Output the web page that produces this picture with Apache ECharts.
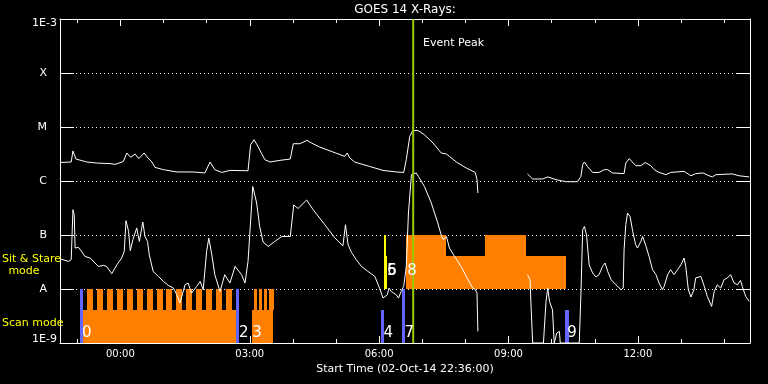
<!DOCTYPE html>
<html><head><meta charset="utf-8">
<script src="https://cdn.jsdelivr.net/npm/echarts@6/dist/echarts.min.js"></script>
<style>html,body{margin:0;padding:0;background:#000}#c{width:768px;height:384px}</style>
</head><body><div id="c"></div>
<script>
// Time axis: hours relative to 03-Oct-14 00:00 (start 02-Oct-14 22:36 = -1.4 h)
const xStart = -1.4, xEnd = 14.6;
const hourTicks = [-1,0,1,2,3,4,5,6,7,8,9,10,11,12,13,14];
const labelHours = [0,3,6,9,12];
const yMin = 1e-9, yMax = 1e-3;
const classNames = {'-9':'1E-9','-8':'A','-7':'B','-6':'C','-5':'M','-4':'X','-3':'1E-3'};

// GOES 14 long channel (1-8 A) flux, W/m^2
const longFlux = [
[-1.39,2.2e-6],[-1.14,2.25e-6],[-1.10,3.6e-6],[-1.03,2.55e-6],[-0.78,2.25e-6],[-0.55,2.15e-6],[-0.24,2.1e-6],[-0.12,2.03e-6],[0.07,2.3e-6],[0.15,3.3e-6],[0.24,2.74e-6],[0.34,3.16e-6],[0.43,2.6e-6],[0.55,3.3e-6],[0.64,2.67e-6],[0.73,2.25e-6],[0.80,1.79e-6],[1.00,1.62e-6],[1.31,1.47e-6],[1.69,1.47e-6],[1.96,1.41e-6],[2.08,2.25e-6],[2.19,1.62e-6],[2.35,1.44e-6],[2.54,1.57e-6],[2.96,1.55e-6],[3.02,4.7e-6],[3.10,5.8e-6],[3.19,4.37e-6],[3.35,2.48e-6],[3.47,2.25e-6],[3.70,2.41e-6],[3.94,2.55e-6],[4.01,4.9e-6],[4.16,4.9e-6],[4.33,5.65e-6],[4.43,5.05e-6],[4.62,4.26e-6],[4.93,3.44e-6],[5.20,2.86e-6],[5.26,3.3e-6],[5.32,2.67e-6],[5.43,2.25e-6],[5.78,1.86e-6],[6.09,1.57e-6],[6.40,1.47e-6],[6.57,1.44e-6],[6.63,2.48e-6],[6.71,6.7e-6],[6.78,8.6e-6],[6.90,8.6e-6],[7.05,7.2e-6],[7.25,5.05e-6],[7.44,3.3e-6],[7.56,3.16e-6],[7.63,2.86e-6],[7.79,2.25e-6],[8.02,1.74e-6],[8.23,1.44e-6],[8.27,1.06e-6],[8.29,6.0e-7],
[8.9,'-'],
[9.44,1.35e-6],[9.56,1.09e-6],[9.79,1.09e-6],[9.91,1.19e-6],[10.10,1.06e-6],[10.33,9.7e-7],[10.60,9.7e-7],[10.68,1.22e-6],[10.72,2.0e-6],[10.76,2.25e-6],[10.83,1.86e-6],[10.95,1.44e-6],[11.10,1.44e-6],[11.22,1.62e-6],[11.30,1.62e-6],[11.41,1.41e-6],[11.68,1.37e-6],[11.72,2.15e-6],[11.80,2.6e-6],[11.95,1.92e-6],[12.07,1.92e-6],[12.17,2.2e-6],[12.30,1.92e-6],[12.38,1.62e-6],[12.49,1.44e-6],[12.65,1.31e-6],[12.76,1.44e-6],[13.07,1.51e-6],[13.23,1.25e-6],[13.34,1.37e-6],[13.51,1.41e-6],[13.65,1.25e-6],[13.73,1.19e-6],[13.81,1.31e-6],[14.19,1.35e-6],[14.35,1.25e-6],[14.58,1.19e-6]
];

// GOES 14 short channel (0.5-4 A) flux, W/m^2
const shortFlux = [
[-1.39,3.6e-8],[-1.20,3.24e-8],[-1.14,3.5e-8],[-1.10,2.94e-7],[-1.07,2.38e-7],[-1.05,5.74e-8],[-0.97,5.9e-8],[-0.89,4.84e-8],[-0.82,4.0e-8],[-0.70,3.75e-8],[-0.59,3.03e-8],[-0.51,2.62e-8],[-0.39,2.74e-8],[-0.32,2.62e-8],[-0.20,1.92e-8],[-0.08,2.82e-8],[0.03,3.75e-8],[0.09,4.97e-8],[0.13,1.84e-7],[0.19,1.17e-7],[0.23,5.12e-8],[0.29,8.2e-8],[0.38,1.35e-7],[0.44,7.6e-8],[0.52,1.74e-7],[0.57,9.4e-8],[0.63,7.6e-8],[0.67,4.3e-8],[0.76,2.12e-8],[0.88,1.71e-8],[1.00,1.38e-8],[1.11,1.17e-8],[1.23,1.04e-8],[1.31,7.8e-9],[1.38,5.5e-9],[1.50,1.2e-8],[1.57,1.29e-8],[1.65,8.4e-9],[1.77,1.12e-8],[1.85,1.38e-8],[1.92,9.7e-9],[2.00,4.97e-8],[2.05,8.8e-8],[2.12,4.3e-8],[2.19,1.84e-8],[2.31,9.0e-9],[2.42,1.84e-8],[2.54,1.29e-8],[2.66,2.62e-8],[2.81,1.84e-8],[2.89,1.29e-8],[2.96,3.24e-8],[3.00,1.01e-7],[3.07,7.9e-7],[3.10,7.4e-7],[3.16,3.91e-7],[3.23,1.44e-7],[3.31,7.4e-8],[3.43,6.15e-8],[3.58,7.6e-8],[3.74,9.4e-8],[3.94,9.4e-8],[4.02,3.6e-7],[4.12,3.1e-7],[4.32,4.45e-7],[4.47,2.94e-7],[4.74,1.55e-7],[4.97,8.9e-8],[5.16,6.3e-8],[5.22,1.55e-7],[5.28,6.6e-8],[5.36,4.75e-8],[5.47,3.5e-8],[5.59,2.62e-8],[5.74,2.12e-8],[5.90,1.71e-8],[6.01,1.04e-8],[6.09,6.8e-9],[6.19,7.8e-9],[6.23,1.04e-8],[6.28,9.0e-9],[6.40,7.8e-9],[6.45,6.8e-9],[6.51,9.0e-9],[6.57,1.12e-8],[6.63,2.62e-8],[6.68,2.55e-7],[6.75,1.31e-6],[6.86,1.41e-6],[6.91,1.22e-6],[7.05,7.9e-7],[7.21,3.91e-7],[7.36,1.67e-7],[7.44,1.0e-7],[7.49,8.2e-8],[7.56,9.4e-8],[7.63,5.74e-8],[7.75,4.0e-8],[7.90,2.62e-8],[8.06,1.49e-8],[8.17,1.04e-8],[8.23,9.7e-9],[8.27,8.4e-9],[8.29,1.64e-9],
[8.9,'-'],
[9.44,1.84e-8],[9.50,1.49e-8],[9.52,5.5e-9],[9.56,1e-9],[9.81,1e-9],[9.87,5.9e-9],[9.91,1.04e-8],[9.95,5.9e-9],[10.02,4.1e-9],[10.06,1e-9],[10.12,1.53e-9],[10.18,1.64e-9],[10.20,1e-9],[10.64,1e-9],[10.68,8.4e-9],[10.72,1.25e-7],[10.76,1.44e-7],[10.81,1.0e-7],[10.87,2.82e-8],[10.95,1.98e-8],[11.03,1.67e-8],[11.10,1.84e-8],[11.18,2.62e-8],[11.24,3.03e-8],[11.30,2.12e-8],[11.38,1.49e-8],[11.49,1.2e-8],[11.61,9.7e-9],[11.66,1.04e-8],[11.68,5.3e-8],[11.72,1.55e-7],[11.76,2.55e-7],[11.82,2.2e-7],[11.88,1.17e-7],[11.95,6.6e-8],[11.99,5.74e-8],[12.07,7.6e-8],[12.11,9.4e-8],[12.19,6.15e-8],[12.26,4.0e-8],[12.34,2.28e-8],[12.42,1.84e-8],[12.49,1.29e-8],[12.57,9.7e-9],[12.61,1.12e-8],[12.69,1.84e-8],[12.76,2.28e-8],[12.84,1.84e-8],[12.92,2.28e-8],[13.00,2.82e-8],[13.07,3.75e-8],[13.11,2.62e-8],[13.17,9.7e-9],[13.23,7.1e-9],[13.30,9.7e-9],[13.34,1.6e-8],[13.46,1.71e-8],[13.54,1.12e-8],[13.61,7.3e-9],[13.71,4.75e-9],[13.77,9.0e-9],[13.84,1.2e-8],[13.92,1.04e-8],[14.00,1.49e-8],[14.07,1.6e-8],[14.15,1.84e-8],[14.23,1.29e-8],[14.31,1.2e-8],[14.38,1.44e-8],[14.42,1.12e-8],[14.50,7.3e-9],[14.58,5.9e-9]
];

// Scan mode blocks: [start h, end h, bottom level, top level]
const scanBands = [[-0.89,2.67,1e-9,4.1e-9],[3.05,3.55,1e-9,4.1e-9]];
const scanTeethStart = [-0.764,-0.535,-0.306,-0.076,0.153,0.382,0.611,0.840,1.069,1.299,1.528,1.757,1.986,2.215,2.444,3.102,3.218,3.333,3.449];
const scanTeethEnd   = [-0.625,-0.396,-0.167,0.063,0.292,0.521,0.750,0.979,1.208,1.438,1.667,1.896,2.125,2.354,2.583,3.164,3.280,3.396,3.551];
const scanTeethLevels = [4.1e-9, 1e-8];
// Sit & Stare blocks: [start h, end h, top level], bottom at A level
const sitStareBlocks = [[6.613,7.562,1e-7],[7.562,8.465,4.1e-8],[8.465,9.407,1e-7],[9.407,10.340,4.1e-8]];
const sitStareBottom = 1e-8;
// Pointing markers
const blueTimes = [-0.903, 2.708, 6.088, 6.574, 10.36];
const blueTops  = [1e-8, 1e-8, 4.1e-9, 1e-8, 4.1e-9];
const yellowTimes = [6.134, 6.145];
const yellowTops  = [1e-7, 4.1e-8];
const eventLabels = ['0','2','3','4','5','6','7','8','9'];
const eventTimes  = [-0.89, 2.75, 3.06, 6.10, 6.18, 6.19, 6.59, 6.65, 10.36];
const eventLevels = [1.55e-9, 1.55e-9, 1.55e-9, 1.55e-9, 2.1e-8, 2.1e-8, 1.55e-9, 2.1e-8, 1.55e-9];
const eventPeak = 6.79;

const FONT = '"DejaVu Sans", sans-serif';
const fmtHour = v => { const h = ((Math.round(v) % 24) + 24) % 24; return (h < 10 ? '0' : '') + h + ':00'; };

const orangeRects = scanBands.concat(
  scanTeethStart.map((s, i) => [s, scanTeethEnd[i], scanTeethLevels[0], scanTeethLevels[1]]),
  sitStareBlocks.map(b => [b[0], b[1], sitStareBottom, b[2]])
);

function rectRender(color) {
  return function (params, api) {
    const p0 = api.coord([api.value(0), api.value(3)]);
    const p1 = api.coord([api.value(1), api.value(2)]);
    const x0 = Math.round(p0[0]), x1 = Math.round(p1[0]), y0 = Math.round(p0[1]), y1 = Math.round(p1[1]);
    return { type: 'rect', shape: { x: x0, y: y0, width: x1 - x0, height: y1 - y0 }, style: { fill: color } };
  };
}
function barRender(color, w) {
  return function (params, api) {
    const p0 = api.coord([api.value(0), api.value(2)]);
    const p1 = api.coord([api.value(0), api.value(1)]);
    const ww = Array.isArray(w) ? w[params.dataIndex] : w;
    const x0 = Math.round(p0[0] - ww / 2), y0 = Math.round(p0[1]), y1 = Math.round(p1[1]);
    return { type: 'rect', shape: { x: x0, y: y0, width: ww, height: y1 - y0 }, style: { fill: color } };
  };
}

const xBase = { type: 'value', min: xStart, max: xEnd, splitLine: { show: false },
  axisLine: { show: true, onZero: false, lineStyle: { color: '#fff', width: 1 } } };
const yBase = { type: 'log', logBase: 10, min: yMin, max: yMax, splitNumber: 6,
  axisLine: { show: true, onZero: false, lineStyle: { color: '#fff', width: 1 } },
  axisTick: { show: true, inside: true, length: 14, lineStyle: { color: '#fff', width: 1 } } };

const chart = echarts.init(document.getElementById('c'), null, { renderer: 'canvas', width: 768, height: 384 });
chart.setOption({
  backgroundColor: '#000',
  animation: false,
  grid: { left: 60, right: 18, top: 19, bottom: 41, containLabel: false },
  xAxis: [
    Object.assign({}, xBase, { position: 'bottom',
      axisTick: { show: true, inside: true, length: 4, customValues: hourTicks, lineStyle: { color: '#fff' } },
      axisLabel: { show: false } }),
    Object.assign({}, xBase, { position: 'bottom', axisLine: { show: false, onZero: false },
      axisTick: { show: true, inside: true, length: 7, customValues: labelHours, lineStyle: { color: '#fff' } },
      axisLabel: { show: true, customValues: labelHours, formatter: fmtHour, color: '#fff', fontSize: 10, fontFamily: FONT, margin: 6 },
      name: 'Start Time (02-Oct-14 22:36:00)', nameLocation: 'middle', nameGap: 18,
      nameTextStyle: { color: '#fff', fontSize: 11, fontFamily: FONT } }),
    Object.assign({}, xBase, { position: 'top',
      axisTick: { show: true, inside: true, length: 4, customValues: hourTicks, lineStyle: { color: '#fff' } },
      axisLabel: { show: false } }),
    Object.assign({}, xBase, { position: 'top', axisLine: { show: false, onZero: false },
      axisTick: { show: true, inside: true, length: 7, customValues: labelHours, lineStyle: { color: '#fff' } },
      axisLabel: { show: false } })
  ],
  yAxis: [
    Object.assign({}, yBase, { position: 'left',
      axisLabel: { show: true, showMinLabel: true, showMaxLabel: true, margin: 3, color: '#fff', fontSize: 11, fontFamily: FONT,
        formatter: function (v) {
          const k = Math.round(Math.log10(v));
          const s = classNames[String(k)] || '';
          if (k === -3) return '{t|' + s + '}';
          if (k === -9) return '{b|' + s + '}';
          return '{l|' + s + '}';
        },
        rich: {
          t: { color: '#fff', fontSize: 11, fontFamily: FONT, padding: [8, 0, 0, 0] },
          b: { color: '#fff', fontSize: 11, fontFamily: FONT, padding: [0, 0, 7, 0] },
          l: { color: '#fff', fontSize: 11, fontFamily: FONT, padding: [0, 10, 0, 0] }
        } },
      splitLine: { show: true, lineStyle: { color: '#fff', width: 1, type: [1, 3] } } }),
    Object.assign({}, yBase, { position: 'right', axisLabel: { show: false }, splitLine: { show: false } })
  ],
  graphic: [
    { type: 'text', x: 405, y: 10, z: 100, style: { text: 'GOES 14 X-Rays:', fill: '#fff', fontSize: 12, fontFamily: FONT, align: 'center', verticalAlign: 'middle' } },
    { type: 'text', x: 423, y: 43, z: 100, style: { text: 'Event Peak', fill: '#fff', fontSize: 11, fontFamily: FONT, align: 'left', verticalAlign: 'middle' } },
    { type: 'text', x: 2, y: 259, z: 100, style: { text: 'Sit & Stare', fill: '#ffff00', fontSize: 11, fontFamily: FONT, align: 'left', verticalAlign: 'middle' } },
    { type: 'text', x: 24, y: 271, z: 100, style: { text: 'mode', fill: '#ffff00', fontSize: 11, fontFamily: FONT, align: 'center', verticalAlign: 'middle' } },
    { type: 'text', x: 2, y: 323.5, z: 100, style: { text: 'Scan mode', fill: '#ffff00', fontSize: 11, fontFamily: FONT, align: 'left', verticalAlign: 'middle' } }
  ],
  series: [
    { type: 'custom', name: 'modes', z: 1, renderItem: rectRender('#ff8000'),
      encode: { x: [0, 1], y: [2, 3] }, data: orangeRects },
    { type: 'custom', name: 'scan pointings', z: 2, renderItem: barRender('#6464ff', [3, 3, 3, 3, 4]),
      encode: { x: 0, y: [1, 2] }, data: blueTimes.map((t, i) => [t, yMin, blueTops[i]]) },
    { type: 'custom', name: 'sit pointings', z: 2, renderItem: barRender('#ffff00', [2, 3]),
      encode: { x: 0, y: [1, 2] }, data: yellowTimes.map((t, i) => [t, sitStareBottom, yellowTops[i]]) },
    { type: 'line', name: 'long', z: 3, data: longFlux, showSymbol: false, symbol: 'none', clip: true,
      lineStyle: { color: '#fff', width: 1 }, connectNulls: false },
    { type: 'line', name: 'short', z: 3, data: shortFlux, showSymbol: false, symbol: 'none', clip: true,
      lineStyle: { color: '#fff', width: 1 }, connectNulls: false },
    { type: 'custom', name: 'event peak', z: 4, encode: { x: 0, y: 1 }, data: [[eventPeak, 1e-6]],
      renderItem: function (params, api) {
        const p = api.coord([api.value(0), yMax]);
        const q = api.coord([api.value(0), yMin]);
        return { type: 'line', shape: { x1: p[0], y1: p[1], x2: q[0], y2: q[1] }, style: { stroke: '#99cc00', lineWidth: 2 } };
      } },
    { type: 'custom', name: 'labels', z: 5, encode: { x: 0, y: 1 },
      data: eventTimes.map((t, i) => [t, eventLevels[i]]),
      renderItem: function (params, api) {
        const p = api.coord([api.value(0), api.value(1)]);
        return { type: 'text', x: p[0], y: p[1], style: { text: eventLabels[params.dataIndex], fill: '#fff', fontSize: 15, fontFamily: FONT, align: 'left', verticalAlign: 'middle' } };
      } }
  ]
});
</script>
</body></html>
